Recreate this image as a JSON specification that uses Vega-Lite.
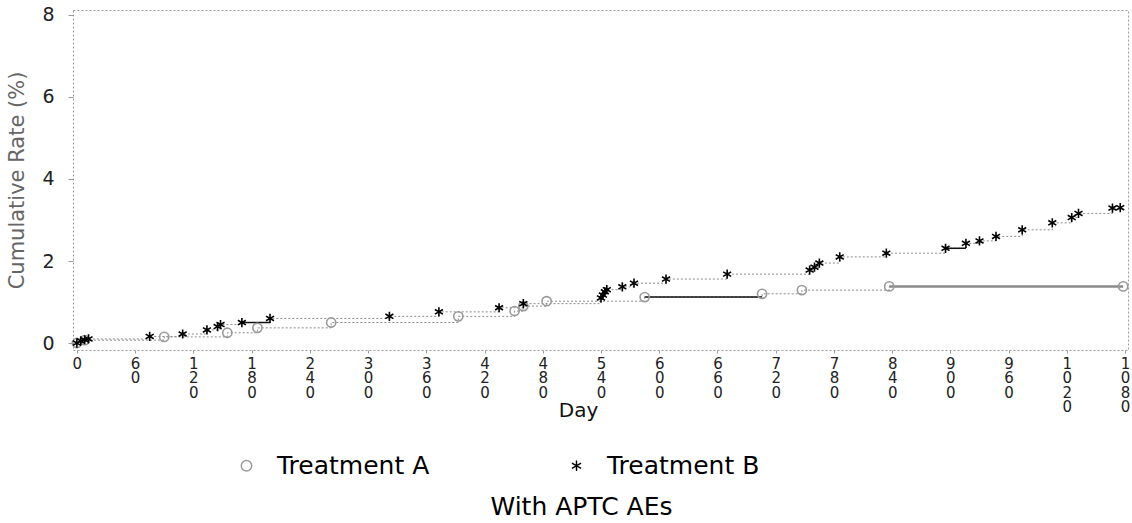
{
  "$schema": "https://vega.github.io/schema/vega-lite/v6.json",
  "width": 1055,
  "height": 340,
  "autosize": {"type": "none"},
  "padding": {"left": 73, "top": 10, "right": 4, "bottom": 173},
  "background": "white",
  "config": {
    "font": "DejaVu Sans",
    "view": {"stroke": "#9a9a9a", "strokeDash": [2, 2], "strokeWidth": 1},
    "axis": {"grid": false, "domain": false, "tickColor": "#999", "labelColor": "#222", "titleColor": "#666", "titleFontWeight": "normal"}
  },
  "title": {"text": "With APTC AEs", "orient": "bottom", "fontSize": 25, "fontWeight": "normal", "color": "#000", "anchor": "middle", "dx": -19, "offset": 16},
  "datasets": {
    "km": [
      {"treatment": "Treatment A", "day": 0, "rate": 0},
      {"treatment": "Treatment A", "day": 8, "rate": 0.07},
      {"treatment": "Treatment A", "day": 90, "rate": 0.15},
      {"treatment": "Treatment A", "day": 155, "rate": 0.25},
      {"treatment": "Treatment A", "day": 186, "rate": 0.37},
      {"treatment": "Treatment A", "day": 262, "rate": 0.5},
      {"treatment": "Treatment A", "day": 393, "rate": 0.65},
      {"treatment": "Treatment A", "day": 451, "rate": 0.78},
      {"treatment": "Treatment A", "day": 460, "rate": 0.9},
      {"treatment": "Treatment A", "day": 484, "rate": 1.02},
      {"treatment": "Treatment A", "day": 585, "rate": 1.12},
      {"treatment": "Treatment A", "day": 706, "rate": 1.2},
      {"treatment": "Treatment A", "day": 747, "rate": 1.29},
      {"treatment": "Treatment A", "day": 837, "rate": 1.38},
      {"treatment": "Treatment A", "day": 1078, "rate": 1.38},
      {"treatment": "Treatment B", "day": 0, "rate": 0},
      {"treatment": "Treatment B", "day": 4, "rate": 0.05},
      {"treatment": "Treatment B", "day": 8, "rate": 0.08},
      {"treatment": "Treatment B", "day": 12, "rate": 0.1},
      {"treatment": "Treatment B", "day": 75, "rate": 0.16},
      {"treatment": "Treatment B", "day": 109, "rate": 0.22},
      {"treatment": "Treatment B", "day": 134, "rate": 0.32},
      {"treatment": "Treatment B", "day": 145, "rate": 0.4},
      {"treatment": "Treatment B", "day": 148, "rate": 0.45},
      {"treatment": "Treatment B", "day": 170, "rate": 0.5},
      {"treatment": "Treatment B", "day": 199, "rate": 0.6},
      {"treatment": "Treatment B", "day": 322, "rate": 0.65},
      {"treatment": "Treatment B", "day": 373, "rate": 0.76},
      {"treatment": "Treatment B", "day": 435, "rate": 0.86},
      {"treatment": "Treatment B", "day": 460, "rate": 0.96},
      {"treatment": "Treatment B", "day": 540, "rate": 1.1},
      {"treatment": "Treatment B", "day": 542, "rate": 1.17},
      {"treatment": "Treatment B", "day": 544, "rate": 1.25},
      {"treatment": "Treatment B", "day": 546, "rate": 1.3},
      {"treatment": "Treatment B", "day": 562, "rate": 1.37},
      {"treatment": "Treatment B", "day": 574, "rate": 1.46},
      {"treatment": "Treatment B", "day": 607, "rate": 1.56},
      {"treatment": "Treatment B", "day": 670, "rate": 1.68},
      {"treatment": "Treatment B", "day": 755, "rate": 1.78},
      {"treatment": "Treatment B", "day": 760, "rate": 1.85},
      {"treatment": "Treatment B", "day": 765, "rate": 1.95},
      {"treatment": "Treatment B", "day": 786, "rate": 2.1},
      {"treatment": "Treatment B", "day": 834, "rate": 2.19},
      {"treatment": "Treatment B", "day": 895, "rate": 2.31},
      {"treatment": "Treatment B", "day": 916, "rate": 2.43},
      {"treatment": "Treatment B", "day": 930, "rate": 2.49},
      {"treatment": "Treatment B", "day": 947, "rate": 2.6},
      {"treatment": "Treatment B", "day": 974, "rate": 2.76},
      {"treatment": "Treatment B", "day": 1005, "rate": 2.93},
      {"treatment": "Treatment B", "day": 1025, "rate": 3.06},
      {"treatment": "Treatment B", "day": 1032, "rate": 3.16},
      {"treatment": "Treatment B", "day": 1067, "rate": 3.29},
      {"treatment": "Treatment B", "day": 1075, "rate": 3.3}
    ],
    "runs1": [
      {"treatment": "Treatment A", "start": 585, "end": 706, "rate": 1.12},
      {"treatment": "Treatment B", "start": 170, "end": 199, "rate": 0.5},
      {"treatment": "Treatment B", "start": 895, "end": 916, "rate": 2.31}
    ],
    "runs2": [
      {"treatment": "Treatment A", "start": 837, "end": 1078, "rate": 1.38}
    ]
  },
  "encoding": {
    "x": {
      "field": "day", "type": "quantitative",
      "scale": {"domain": [-4, 1083], "nice": false, "zero": false},
      "axis": {
        "values": [0, 60, 120, 180, 240, 300, 360, 420, 480, 540, 600, 660, 720, 780, 840, 900, 960, 1020, 1080],
        "format": "d",
        "labelExpr": "split(datum.label, '')",
        "labelAngle": 0,
        "labelFontSize": 15,
        "labelLineHeight": 14.5,
        "labelBaseline": "top",
        "labelPadding": 3,
        "tickSize": 3,
        "title": "Day",
        "titleFontSize": 20,
        "titleColor": "#111",
        "titleY": 60,
        "titleX": 505,
        "titleBaseline": "middle"
      }
    },
    "y": {
      "field": "rate", "type": "quantitative",
      "scale": {"domain": [-0.17, 8.12], "nice": false, "zero": false},
      "axis": {
        "values": [0, 2, 4, 6, 8],
        "labelFontSize": 19,
        "labelPadding": 14,
        "tickSize": 5,
        "title": "Cumulative Rate (%)",
        "titleFontSize": 21,
        "titleX": -56,
        "titleY": 170,
        "titleAngle": 270,
        "titleAlign": "center",
        "titleBaseline": "middle"
      }
    }
  },
  "layer": [
    {
      "data": {"name": "km"},
      "mark": {"type": "line", "interpolate": "step-after", "color": "#8c8c8c", "strokeWidth": 1, "strokeDash": [2, 2]},
      "encoding": {"detail": {"field": "treatment"}}
    },
    {
      "data": {"name": "runs1"},
      "mark": {"type": "rule", "color": "#111", "strokeWidth": 1.5},
      "encoding": {"x": {"field": "start", "type": "quantitative"}, "x2": {"field": "end"}, "y": {"field": "rate", "type": "quantitative"}}
    },
    {
      "data": {"name": "runs2"},
      "mark": {"type": "rule", "color": "#8a8a8a", "strokeWidth": 2.5},
      "encoding": {"x": {"field": "start", "type": "quantitative"}, "x2": {"field": "end"}, "y": {"field": "rate", "type": "quantitative"}}
    },
    {
      "data": {"name": "km"},
      "mark": {"type": "point", "filled": false, "strokeWidth": 1.6, "size": 85, "opacity": 1},
      "encoding": {
        "color": {
          "field": "treatment", "type": "nominal",
          "scale": {"domain": ["Treatment A", "Treatment B"], "range": ["#9a9a9a", "#000000"]},
          "legend": {
            "orient": "none", "legendX": 161, "legendY": 443, "direction": "horizontal",
            "title": null, "labelFontSize": 25, "labelColor": "#000", "labelOffset": 18,
            "symbolSize": 110, "symbolStrokeWidth": 1.4, "columnPadding": 134, "padding": 0
          }
        },
        "shape": {
          "field": "treatment", "type": "nominal",
          "scale": {"domain": ["Treatment A", "Treatment B"], "range": ["circle", "M0,-1L0,1M-0.87,-0.5L0.87,0.5M-0.87,0.5L0.87,-0.5"]}
        }
      }
    }
  ]
}
